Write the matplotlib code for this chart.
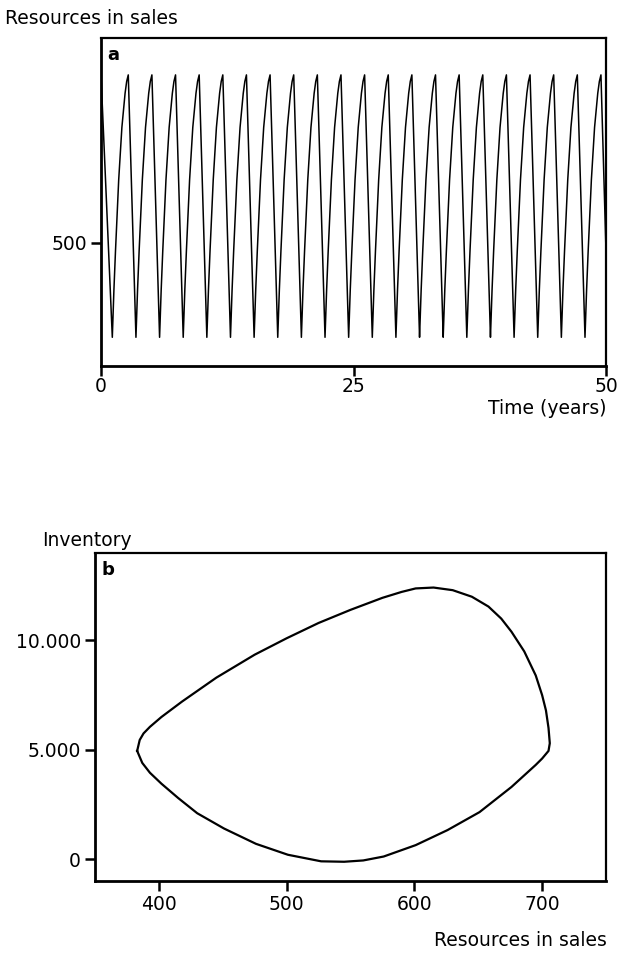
import numpy as np
import matplotlib
matplotlib.use("Agg")
import matplotlib.pyplot as plt

# panel a: times (years) of each trough of resources in sales
trough_times = [1.12, 3.46, 5.80, 8.14, 10.48, 12.82, 15.16, 17.50, 19.84, 22.18, 24.52,
                26.86, 29.20, 31.54, 33.88, 36.22, 38.56, 40.90, 43.24, 45.58, 47.92]
sales_low = 385
sales_high = 705
rise_years = 1.58
fall_years = 0.76
start_value = 705
end_value = 490
# one cycle's shape (fraction of time, fraction of the swing)
rise_u = [0.0, 0.1, 0.2, 0.4, 0.6, 0.8, 0.9, 1.0]
rise_f = [0.0, 0.18, 0.33, 0.6, 0.8, 0.93, 0.975, 1.0]
fall_u = [0.0, 0.5, 1.0]
fall_f = [1.0, 0.5, 0.0]

# panel b: limit cycle, resources in sales vs inventory
loop_sales = [383, 385, 388, 393, 402, 418, 445, 475, 500, 525, 550, 575, 590, 601, 615,
              630, 645, 658, 668, 676, 686, 695, 700, 703, 705, 706, 705, 700, 695, 676,
              651, 626, 601, 576, 560, 545, 527, 501, 476, 451, 430, 415, 402, 393, 387,
              383]
loop_inventory = [4950, 5450, 5750, 6050, 6500, 7200, 8300, 9350, 10100, 10800, 11400,
                  11950, 12220, 12380, 12420, 12300, 12000, 11550, 11000, 10400, 9500,
                  8400, 7500, 6800, 6000, 5300, 4950, 4600, 4310, 3300, 2150, 1330, 640,
                  120, -60, -120, -100, 200, 700, 1400, 2100, 2800, 3450, 3950, 4400, 4950]

swing = sales_high - sales_low
t = [0.0]
s = [start_value]
for tr in trough_times:
    t.append(tr)
    s.append(sales_low)
    for u, f in zip(rise_u[1:], rise_f[1:]):
        t.append(tr + u * rise_years)
        s.append(sales_low + f * swing)
    peak_t = tr + rise_years
    for u, f in zip(fall_u[1:], fall_f[1:]):
        if peak_t + u * fall_years > 50:
            break
        t.append(peak_t + u * fall_years)
        s.append(sales_low + f * swing)
t.append(50.0)
s.append(end_value)

plt.rcParams['font.family'] = 'DejaVu Sans'
fig = plt.figure(figsize=(6.18, 9.55), dpi=100)

ax1 = fig.add_axes([101 / 618, 1 - 366 / 955, 505 / 618, 328 / 955])
ax1.plot(t, s, color='black', lw=1.1)
ax1.set_xlim(0, 50)
ax1.set_ylim(350, 750)
ax1.set_xticks([0, 25, 50])
ax1.set_xticklabels(['0', '25', '50'])
ax1.set_yticks([500])
ax1.set_yticklabels(['500'])
ax1.text(0.012, 0.975, 'a', transform=ax1.transAxes, fontsize=13, fontweight='bold',
         va='top', ha='left')

ax2 = fig.add_axes([95 / 618, 1 - 881 / 955, 511 / 618, 328 / 955])
ax2.plot(loop_sales, loop_inventory, color='black', lw=1.6, solid_joinstyle='round')
ax2.set_xlim(350, 750)
ax2.set_ylim(-1000, 14000)
ax2.set_xticks([400, 500, 600, 700])
ax2.set_xticklabels(['400', '500', '600', '700'])
ax2.set_yticks([0, 5000, 10000])
ax2.set_yticklabels(['0', '5.000', '10.000'])
ax2.text(0.012, 0.975, 'b', transform=ax2.transAxes, fontsize=13, fontweight='bold',
         va='top', ha='left')

for ax in (ax1, ax2):
    ax.tick_params(direction='out', length=7, width=1.8, labelsize=13.5, pad=3)
    for side in ('left', 'bottom'):
        ax.spines[side].set_linewidth(2.0)
    for side in ('top', 'right'):
        ax.spines[side].set_linewidth(1.6)
ax1.tick_params(axis='x', pad=1)

fig.text(5 / 618, 1 - 18 / 955, 'Resources in sales', fontsize=13.5, va='center', ha='left')
fig.text(607 / 618, 1 - 408 / 955, 'Time (years)', fontsize=13.5, va='center', ha='right')
fig.text(42 / 618, 1 - 540 / 955, 'Inventory', fontsize=13.5, va='center', ha='left')
fig.text(607 / 618, 1 - 940 / 955, 'Resources in sales', fontsize=13.5, va='center', ha='right')

fig.savefig('out.png', dpi=100)
